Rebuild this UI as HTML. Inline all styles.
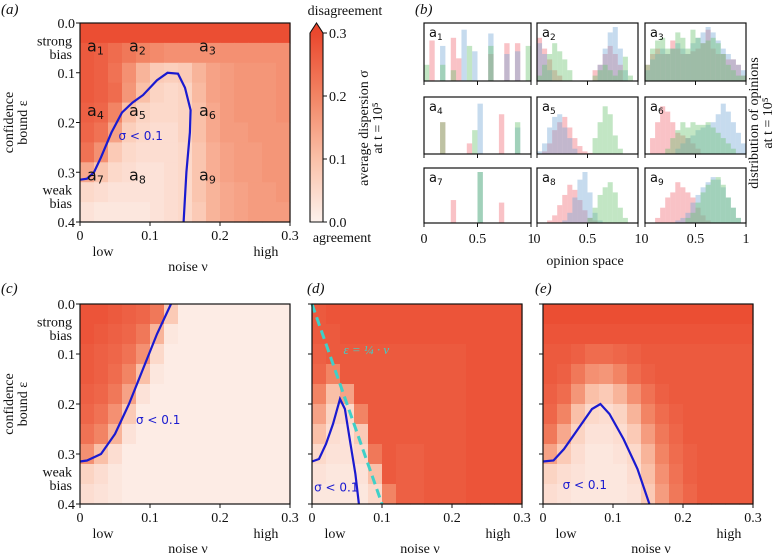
<!DOCTYPE html>
<html><head><meta charset="utf-8"><style>
html,body{margin:0;padding:0;background:#fff;}
svg{display:block;font-family:"Liberation Serif",serif;}
.sans{font-family:"DejaVu Sans","Liberation Sans",sans-serif;}
</style></head><body>
<svg id="fig" width="783" height="555" viewBox="0 0 783 555" xmlns="http://www.w3.org/2000/svg"></svg>
<script>
// ---------- data ----------
const noiseTicks=[0,0.1,0.2,0.3];
const noiseTickLabels=["0","0.1","0.2","0.3"];
const epsTicks=[0,0.1,0.2,0.3,0.4];
const epsTickLabels=["0.0","0.1","0.2","0.3","0.4"];
const cbTicks=[0,0.1,0.2,0.3];
const cbTickLabels=["0.0","0.1","0.2","0.3"];
const histTicks=[0,0.5,1];
const histTickLabels=["0","0.5","1"];
// heatmaps: 10 rows (eps 0..0.4) x 15 cols (noise 0..0.3)
const heatA=[
[.29,.29,.29,.29,.29,.29,.29,.29,.29,.29,.29,.29,.29,.29,.29],
[.27,.26,.24,.22,.20,.19,.18,.18,.18,.18,.18,.18,.18,.18,.18],
[.27,.26,.23,.18,.12,.08,.07,.08,.12,.15,.16,.17,.17,.17,.18],
[.27,.26,.24,.17,.10,.06,.05,.06,.11,.15,.16,.17,.17,.17,.18],
[.26,.25,.20,.10,.06,.05,.05,.06,.10,.14,.16,.17,.17,.17,.18],
[.25,.23,.15,.07,.05,.04,.04,.06,.10,.14,.16,.16,.17,.17,.17],
[.23,.18,.08,.05,.04,.04,.04,.05,.09,.13,.15,.16,.16,.17,.17],
[.14,.09,.05,.04,.03,.03,.04,.05,.09,.13,.15,.16,.16,.17,.17],
[.05,.04,.03,.03,.03,.03,.04,.05,.09,.12,.14,.15,.16,.16,.17],
[.03,.02,.02,.02,.02,.03,.04,.05,.08,.12,.14,.15,.16,.16,.16]];
const heatC=[
[.28,.28,.27,.26,.25,.22,.08,.01,.01,.01,.01,.01,.01,.01,.01],
[.28,.27,.26,.25,.22,.12,.02,.01,.01,.01,.01,.01,.01,.01,.01],
[.27,.26,.25,.23,.18,.05,.01,.01,.01,.01,.01,.01,.01,.01,.01],
[.27,.26,.24,.20,.10,.02,.01,.01,.01,.01,.01,.01,.01,.01,.01],
[.26,.25,.22,.15,.03,.01,.01,.01,.01,.01,.01,.01,.01,.01,.01],
[.25,.23,.18,.08,.01,.01,.01,.01,.01,.01,.01,.01,.01,.01,.01],
[.23,.20,.12,.03,.01,.01,.01,.01,.01,.01,.01,.01,.01,.01,.01],
[.18,.10,.04,.01,.01,.01,.01,.01,.01,.01,.01,.01,.01,.01,.01],
[.06,.04,.02,.01,.01,.01,.01,.01,.01,.01,.01,.01,.01,.01,.01],
[.04,.03,.02,.01,.01,.01,.01,.01,.01,.01,.01,.01,.01,.01,.01]];
const heatD=[
[.27,.28,.28,.28,.28,.28,.28,.28,.28,.28,.28,.28,.28,.28,.28],
[.27,.27,.28,.28,.28,.28,.28,.28,.28,.28,.28,.28,.28,.28,.28],
[.26,.27,.27,.27,.27,.27,.27,.27,.27,.27,.27,.28,.28,.28,.28],
[.25,.20,.27,.27,.27,.27,.27,.27,.27,.27,.27,.28,.28,.28,.28],
[.20,.10,.15,.27,.27,.27,.27,.27,.27,.27,.27,.28,.28,.28,.28],
[.15,.06,.05,.20,.27,.27,.27,.27,.27,.27,.27,.28,.28,.28,.28],
[.10,.04,.03,.08,.27,.27,.27,.27,.27,.27,.27,.28,.28,.28,.28],
[.05,.03,.03,.05,.22,.27,.26,.26,.27,.27,.27,.28,.28,.28,.28],
[.03,.02,.02,.03,.10,.27,.26,.26,.27,.27,.27,.28,.28,.28,.28],
[.02,.02,.02,.02,.05,.20,.26,.26,.27,.27,.27,.28,.28,.28,.28]];
const heatE=[
[.29,.29,.29,.29,.29,.29,.29,.29,.29,.29,.29,.29,.29,.29,.29],
[.28,.28,.28,.28,.28,.28,.28,.28,.28,.28,.28,.28,.28,.28,.28],
[.27,.27,.26,.24,.24,.25,.26,.27,.27,.27,.27,.27,.27,.27,.27],
[.27,.26,.22,.18,.17,.20,.24,.26,.27,.27,.27,.27,.27,.27,.27],
[.26,.24,.17,.10,.08,.12,.18,.23,.26,.27,.27,.27,.27,.27,.27],
[.25,.20,.10,.05,.04,.06,.12,.20,.24,.26,.27,.27,.27,.27,.27],
[.22,.14,.06,.03,.03,.04,.08,.16,.22,.25,.27,.27,.27,.27,.27],
[.15,.08,.04,.02,.02,.03,.05,.12,.20,.24,.26,.27,.27,.27,.27],
[.06,.04,.03,.02,.02,.02,.04,.10,.18,.23,.26,.27,.27,.27,.27],
[.04,.03,.02,.02,.02,.02,.03,.08,.16,.22,.25,.27,.27,.27,.27]];
// contours sigma<0.1 : noise values and eps values
const contourANoise=[0,.01,.02,.03,.045,.06,.075,.09,.11,.125,.14,.15,.158,.157,.152,.148];
const contourAEps=[.315,.313,.3,.27,.22,.18,.16,.145,.115,.1,.102,.13,.175,.22,.3,.4];
const contourCNoise=[0,.01,.03,.05,.07,.09,.11,.13];
const contourCEps=[.315,.313,.3,.26,.2,.13,.06,0];
const contourDNoise=[0,.01,.02,.03,.04,.047,.055,.062,.067];
const contourDEps=[.315,.31,.28,.24,.19,.21,.28,.34,.4];
const contourENoise=[0,.015,.03,.05,.07,.082,.095,.115,.135,.152];
const contourEEps=[.315,.313,.29,.25,.21,.2,.22,.27,.33,.4];
// histograms: 20 bins over [0,1], heights 0..1
const histRed=[
[0,.75,0,0,0,.8,.42,0,0,0,0,0,.5,0,0,.7,0,.7,0,0],
[.8,.6,.4,.2,.1,0,0,0,0,0,0,.2,.3,.5,.65,.5,.3,0,0,0],
[.3,.5,.6,.5,.5,.75,.6,.5,.5,.55,.6,.7,.95,.6,.5,.5,.4,.4,.3,.1],
[0,0,0,.6,0,0,0,0,.2,0,0,0,0,0,.75,0,0,0,0,0],
[0,.05,.2,.45,.6,.7,.5,.3,.15,.05,.02,0,0,0,0,0,0,0,0,0],
[0,.3,.6,.9,.8,.6,.4,.35,.3,.2,.1,0,0,0,0,0,0,0,0,0],
[0,0,0,0,0,.45,0,0,0,0,0,0,0,0,.4,0,0,0,0,0],
[0,0,.05,.15,.35,.55,.75,.65,.45,.25,.1,.05,0,0,0,0,0,0,0,0],
[0,0,.1,.3,.5,.6,.8,.7,.6,.5,.3,.15,.05,0,0,0,0,0,0,0]];
const histBlue=[
[0,0,0,.65,0,0,0,.95,0,.55,0,0,.88,0,0,.5,0,.55,0,0],
[.7,.5,.2,0,0,0,0,0,0,0,0,0,.3,.6,.9,1,.6,.2,0,0],
[.2,.4,.5,.6,.5,.6,.7,.6,.5,.7,.8,.9,1,.9,.75,.6,.5,.4,.3,.2],
[0,0,0,0,0,0,0,0,0,0,.95,0,0,0,0,0,0,.5,0,0],
[.05,.2,.5,.7,.75,.5,.3,.1,0,0,0,0,0,0,0,0,0,0,0,0],
[0,0,0,0,0,0,.1,.2,.3,.35,.45,.5,.55,.6,.75,.95,.8,.6,.4,.2],
[0,0,0,0,0,0,0,0,0,0,1,0,0,0,0,0,0,0,0,0],
[0,0,0,0,0,.05,.2,.5,.85,1,.6,.2,.05,0,0,0,0,0,0,0],
[0,0,0,0,0,0,.05,.1,.2,.4,.55,.7,.8,.9,.85,.7,.5,.3,.1,0]];
const histGreen=[
[.3,0,0,.3,0,.2,0,0,.65,0,0,0,.65,0,0,0,0,0,0,.65],
[.1,.3,.5,.7,.55,.4,.2,0,0,0,0,.1,.2,.3,.2,.1,.2,.45,.1,0],
[.3,.6,.75,.8,.6,.6,.9,.8,.6,.95,.8,.7,.75,.8,.7,.5,.3,.2,.1,.1],
[0,0,0,.6,0,0,0,0,0,.45,0,0,0,0,0,0,0,.6,0,0],
[0,0,0,0,0,0,0,0,0,0,0,.3,.6,.9,.75,.35,.1,0,0,0],
[0,0,0,0,.1,.3,.45,.6,.5,.6,.55,.55,.6,.5,.4,.3,.2,.1,0,0],
[0,0,0,0,0,0,0,0,0,0,1,0,0,0,0,0,0,0,0,0],
[0,0,0,0,0,0,0,0,0,0,.1,.3,.55,.7,.8,.6,.3,.1,0,0],
[0,0,0,0,0,0,0,0,.1,.2,.4,.6,.75,.85,.9,.75,.5,.3,.1,0]];
const histLabels=["1","2","3","4","5","6","7","8","9"];

// ---------- helpers ----------
const NS="http://www.w3.org/2000/svg";
const svg=document.getElementById('fig');
function el(tag,attrs,parent){const e=document.createElementNS(NS,tag);for(const k in attrs)e.setAttribute(k,attrs[k]);(parent||svg).appendChild(e);return e;}
function txt(s,x,y,attrs,parent){const t=el('text',Object.assign({x:x,y:y,'font-size':14,fill:'#111'},attrs||{}),parent);t.textContent=s;return t;}
const stops=[[0,[253,241,236]],[0.1,[250,192,168]],[0.2,[242,132,100]],[0.3,[234,72,46]]];
function cmap(v){v=Math.max(0,Math.min(0.3,v));for(let i=0;i<stops.length-1;i++){const a=stops[i],b=stops[i+1];if(v<=b[0]){const t=(v-a[0])/(b[0]-a[0]);return 'rgb('+a[1].map((c,j)=>Math.round(c+(b[1][j]-c)*t)).join(',')+')';}}return 'rgb(234,72,46)';}

function heatPanel(name,x0,y0,w,h,data,contN,contE,showYLabels,opts){
  const g=el('g',{});
  
  
  const xs=v=>x0+v/0.3*w, ys=e=>y0+e/0.4*h;
  const rows=data.length, cols=data[0].length;
  for(let r=0;r<rows;r++)for(let c=0;c<cols;c++){
    const cell=el('rect',{x:xs(c*0.3/cols),y:ys(r*0.4/rows),width:w/cols+0.6,height:h/rows+0.6,fill:cmap(data[r][c])},g);
    
    
  }
  if(opts&&opts.dashed){
    const dl=el('line',{x1:xs(0),y1:ys(0),x2:xs(0.1),y2:ys(0.4),stroke:'#3fd0c8','stroke-width':3,'stroke-dasharray':'9,5'},g);
    
    
    const lt=txt('ε = ¼ · ν',xs(0.045),ys(0.1),{fill:'#3fd0c8','font-size':13,'font-style':'italic'},g);
    
    
  }
  const pts=contN.map((v,i)=>xs(v).toFixed(1)+','+ys(contE[i]).toFixed(1)).join(' ');
  const pl=el('polyline',{points:pts,fill:'none',stroke:'#1a1ad0','stroke-width':2.2},g);
  
  
  const cl=txt('σ < 0.1',xs(opts.lab[0]),ys(opts.lab[1]),{fill:'#1a1ad0','font-size':12,class:'sans'},g);
  
  
  const fr=el('rect',{x:x0,y:y0,width:w,height:h,fill:'none',stroke:'#111','stroke-width':1.2},g);
  
  
  noiseTicks.forEach((t,i)=>{
    el('line',{x1:xs(t),y1:y0+h,x2:xs(t),y2:y0+h+4,stroke:'#111'},g);
    const tl=txt(noiseTickLabels[i],xs(t),y0+h+18,{'text-anchor':'middle'},g);
    
    
  });
  epsTicks.forEach((t,i)=>{
    el('line',{x1:x0-4,y1:ys(t),x2:x0,y2:ys(t),stroke:'#111'},g);
    if(showYLabels){const tl=txt(epsTickLabels[i],x0-5,ys(t)+5,{'text-anchor':'end'},g);
    
    }
  });
  const lo=txt('low',x0+23,y0+h+34,{'text-anchor':'middle'},g);
  
  
  const hi=txt('high',x0+w-24,y0+h+34,{'text-anchor':'middle'},g);
  
  
  const xt=txt('noise ν',x0+w/2+3,y0+h+49,{'text-anchor':'middle'},g);
  
  
  if(showYLabels){
    [['strong',ys(0.045)],['bias',ys(0.072)],['weak',ys(0.345)],['bias',ys(0.372)]].forEach(p=>{
      const b=txt(p[0],x0-8,p[1],{'text-anchor':'end'},g);
      
      
    });
    const yt=el('text',{transform:'translate('+(x0-67)+','+(y0+h/2)+') rotate(-90)','text-anchor':'middle','font-size':14,fill:'#111'},g);
    
    
    const t1=el('tspan',{x:0,dy:0},yt);t1.textContent='confidence';
    const t2=el('tspan',{x:0,dy:14},yt);t2.textContent='bound ε';
  }
  return {xs,ys,g};
}

// panel letters
[['(a)',1,14],['(b)',415,14],['(c)',1,293],['(d)',307,293],['(e)',535,293]].forEach(p=>{
  const t=txt(p[0],p[1],p[2],{'font-style':'italic','font-size':15});
  
  
});

// panel a
const A=heatPanel('panel-a-heatmap',80,23,210,199,heatA,contourANoise,contourAEps,true,{lab:[0.055,0.235]});
const aPos=[[0.01,0.045],[0.07,0.045],[0.17,0.045],[0.01,0.175],[0.07,0.175],[0.17,0.175],[0.01,0.305],[0.07,0.305],[0.17,0.305]];
aPos.forEach((p,i)=>{
  const t=el('text',{x:A.xs(p[0]),y:A.ys(p[1])+6,'font-size':16,fill:'#111',class:'sans'},A.g);
  
  
  t.textContent='a';
  const s=el('tspan',{'font-size':11,dy:3},t);s.textContent=histLabels[i];
});

// colorbar
(function(){
  const g=el('g',{});
  
  
  const x0=310,w=13,y0=33,y1=222;
  const defs=el('defs',{},g);
  const lg=el('linearGradient',{id:'cbg',x1:0,y1:1,x2:0,y2:0},defs);
  stops.forEach(s=>el('stop',{offset:(s[0]/0.3),'stop-color':cmap(s[0])},lg));
  el('rect',{x:x0,y:y0,width:w,height:y1-y0,fill:'url(#cbg)'},g);
  el('polygon',{points:x0+','+y0+' '+(x0+w/2)+','+(y0-10)+' '+(x0+w)+','+y0,fill:cmap(0.3)},g);
  el('polygon',{points:x0+','+y1+' '+x0+','+y0+' '+(x0+w/2)+','+(y0-10)+' '+(x0+w)+','+y0+' '+(x0+w)+','+y1,fill:'none',stroke:'#111','stroke-width':1.1},g);
  cbTicks.forEach((t,i)=>{
    const y=y1-(t/0.3)*(y1-y0);
    el('line',{x1:x0+w,y1:y,x2:x0+w+4,y2:y,stroke:'#111'},g);
    const l=txt(cbTickLabels[i],x0+w+6,y+5,{},g);
    
    
  });
  const d=txt('disagreement',345,15,{'text-anchor':'middle'},g);
  
  
  const a=txt('agreement',342,242,{'text-anchor':'middle'},g);
  
  
  const t=el('text',{transform:'translate(368,128) rotate(-90)','text-anchor':'middle','font-size':14,fill:'#111'},g);
  
  
  const t1=el('tspan',{x:0,dy:0},t);t1.textContent='average dispersion σ';
  const t2=el('tspan',{x:0,dy:14},t);t2.textContent='at t = 10⁵';
})();

// panel b histograms
const colX=[[424,531],[537,638],[645,746]];
const rowY=[[23,81],[97,154],[168,223]];
const histCols=[['rgba(240,110,120,0.42)',histRed],['rgba(120,170,215,0.42)',histBlue],['rgba(110,195,115,0.42)',histGreen]];
for(let r=0;r<3;r++)for(let c=0;c<3;c++){
  const k=r*3+c, x0=colX[c][0], x1=colX[c][1], y0=rowY[r][0], y1=rowY[r][1];
  const g=el('g',{});
  
  
  const xs=v=>x0+v*(x1-x0), hs=v=>v*(y1-y0-4);
  histCols.forEach(hc=>{
    const arr=hc[1][k], bw=1/arr.length;
    arr.forEach((v,i)=>{ if(v>0){
      const b=el('rect',{x:xs(i*bw),y:y1-hs(v),width:xs(bw)-x0,height:hs(v),fill:hc[0]},g);
      
      
    }});
  });
  el('rect',{x:x0,y:y0,width:x1-x0,height:y1-y0,fill:'none',stroke:'#111','stroke-width':1.2},g);
  const t=el('text',{x:x0+5,y:y0+14,'font-size':13,fill:'#111',class:'sans'},g);
  
  
  t.textContent='a';const s=el('tspan',{'font-size':9,dy:3},t);s.textContent=histLabels[k];
  histTicks.forEach((tv,i)=>{
    el('line',{x1:xs(tv),y1:y1,x2:xs(tv),y2:y1+4,stroke:'#111'},g);
    if(r===2){const l=txt(histTickLabels[i],xs(tv),y1+20,{'text-anchor':'middle'},g);
    
    }
  });
}
const os=txt('opinion space',585,265,{'text-anchor':'middle'});


(function(){
  const t=el('text',{transform:'translate(758,123) rotate(-90)','text-anchor':'middle','font-size':14,fill:'#111'});
  
  
  const t1=el('tspan',{x:0,dy:0},t);t1.textContent='distribution of opinions';
  const t2=el('tspan',{x:0,dy:14},t);t2.textContent='at t = 10⁵';
})();

// bottom panels
heatPanel('panel-c-heatmap',80,304,210,200,heatC,contourCNoise,contourCEps,true,{lab:[0.08,0.24]});
heatPanel('panel-d-heatmap',312,304,210,200,heatD,contourDNoise,contourDEps,false,{dashed:true,lab:[0.003,0.375]});
heatPanel('panel-e-heatmap',543,304,210,200,heatE,contourENoise,contourEEps,false,{lab:[0.028,0.37]});
</script>
</body></html>
